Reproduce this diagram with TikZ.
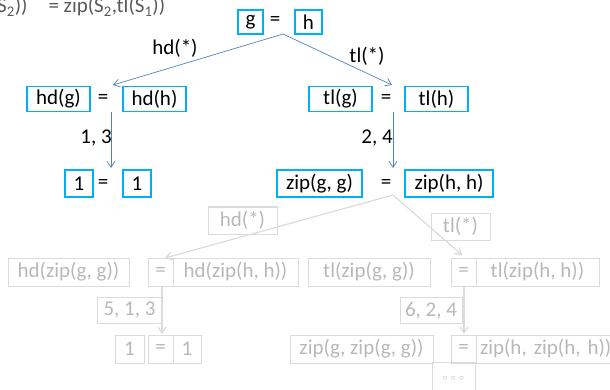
\documentclass[tikz,border=0pt]{standalone}
\usepackage{fontspec}
\setmainfont{Carlito}
\usetikzlibrary{arrows.meta}
\definecolor{boxc}{HTML}{00B0F0}
\definecolor{arrc}{HTML}{4F81BD}
\definecolor{fadeb}{gray}{0.86}
\definecolor{fadet}{gray}{0.72}
\definecolor{toptxt}{HTML}{595959}
\begin{document}
\begin{tikzpicture}[x=1pt,y=-1pt,
  every node/.style={font=\fontsize{21}{21}\selectfont, inner sep=0pt},
  bx/.style={draw=boxc, line width=1.5pt, minimum height=25pt, text=black},
  eqs/.style={text=black},
  arr/.style={draw=arrc, line width=0.7pt, -{Straight Barb[length=6pt,width=8pt]}},
  lab/.style={text=black},
  fbx/.style={draw=fadeb, line width=1pt, minimum height=27pt, text=fadet},
  farr/.style={draw=fadeb, line width=1.2pt, -{Straight Barb[length=6pt,width=8pt]}},
  fline/.style={draw=fadeb, line width=1.2pt}]
\useasboundingbox (0,0) rectangle (610,390);
\clip (0,0) rectangle (610,390);

% cut-off top text
\node[anchor=base west, text=toptxt] (toptext) at (-3,13) {S\textsubscript{2}))\quad = zip(S\textsubscript{2},tl(S\textsubscript{1}))};

% top row
\node[bx, minimum width=25pt, minimum height=24pt] (g) at (250.5,22) {g};
\node[eqs] (eq0) at (275,21) {=};
\node[bx, minimum width=27pt, minimum height=24pt] (h) at (308.5,22) {h};
\coordinate (split) at (283,34);

% second row
\node[bx, minimum width=63pt] (hdg) at (58.5,99) {hd(g)};
\node[eqs] (eq1) at (103,99) {=};
\node[bx, minimum width=63pt] (hdh) at (154.5,99) {hd(h)};
\node[bx, minimum width=63pt] (tlg) at (340.5,99) {tl(g)};
\node[eqs] (eq2) at (386,99) {=};
\node[bx, minimum width=63pt] (tlh) at (436.5,99) {tl(h)};

\coordinate (hdin) at (113,85);
\coordinate (tlin) at (392,85);
\draw[arr] (split) -- (hdin);
\draw[arr] (split) -- (tlin);
\node[lab] (lhd) at (175,48) {hd(*)};
\node[lab] (ltl) at (367,56) {tl(*)};

% third row
\node[bx, minimum width=28pt, minimum height=27pt] (one1) at (79,183.5) {1};
\node[eqs] (eq3) at (103,183.5) {=};
\node[bx, minimum width=28pt, minimum height=27pt] (one2) at (137,183.5) {1};
\node[bx, minimum width=85pt, minimum height=27pt] (zipg) at (319.5,183.5) {zip(g, g)};
\node[eqs] (eq4) at (386,183.5) {=};
\node[bx, minimum width=88pt, minimum height=27pt] (ziph) at (449,183.5) {zip(h, h)};

\coordinate (v1s) at (111,112);
\coordinate (v1e) at (111,168);
\coordinate (v2s) at (393,112);
\coordinate (v2e) at (393,168);
\draw[arr] (v1s) -- (v1e);
\draw[arr] (v2s) -- (v2e);
\node[lab] (l13) at (96,138) {1, 3};
\node[lab] (l24) at (377,138) {2, 4};

% faded part
\coordinate (fsplit) at (393,195);
\coordinate (fhdin) at (165,258);
\coordinate (ftlin) at (462,255);
\draw[farr] (fsplit) -- (fhdin);
\draw[farr] (fsplit) -- (ftlin);

\node[fbx, minimum width=69pt] (fhd) at (242.5,220.5) {hd(*)};
\node[fbx, minimum width=59pt] (ftl) at (460.5,226.5) {tl(*)};

\node[fbx, minimum width=121pt, minimum height=28pt] (hdzg) at (68.5,272) {hd(zip(g, g))};
\node[fbx, minimum width=25pt, minimum height=28pt] (feqA) at (160.5,272) {=};
\node[fbx, minimum width=125pt, minimum height=28pt] (hdzh) at (235.5,272) {hd(zip(h, h))};
\node[fbx, minimum width=122pt, minimum height=28pt] (tlzg) at (369,272) {tl(zip(g, g))};
\node[fbx, minimum width=25pt, minimum height=28pt] (feqB) at (463.5,272) {=};
\node[fbx, minimum width=123pt, minimum height=28pt] (tlzh) at (537.5,272) {tl(zip(h, h))};

\coordinate (fv1s) at (162,286);
\coordinate (fv1e) at (162,334);
\coordinate (fv2s) at (464,286);
\coordinate (fv2e) at (464,334);
\draw[farr] (fv1s) -- (fv1e);
\draw[farr] (fv2s) -- (fv2e);
\node[fbx, minimum width=65pt, minimum height=26pt] (f513) at (129.5,310) {5, 1, 3};
\node[fbx, minimum width=62pt, minimum height=26pt] (f624) at (431,310.5) {6, 2, 4};

\node[fbx, minimum width=29pt, minimum height=28pt] (oneA) at (129.5,349) {1};
\node[fbx, minimum width=25pt, minimum height=28pt] (feqC) at (160.5,349) {=};
\node[fbx, minimum width=28pt, minimum height=28pt] (oneB) at (187,349) {1};
\node[fbx, minimum width=143pt, minimum height=28pt] (zgzg) at (361.5,349) {zip(g, zip(g, g))};
\node[fbx, minimum width=25pt, minimum height=28pt] (feqD) at (463.5,349) {=};
\node[fbx, minimum width=144pt, minimum height=28pt, text width=140pt, align=left] (zhzh) at (548,349) {\hspace{2pt}zip(h, zip(h, h))};
\node[fbx, minimum width=43pt, minimum height=33pt, font=\fontsize{9}{9}\selectfont] (fdots) at (453.5,378.5) {$\circ\,\circ\,\circ$};
\end{tikzpicture}
\end{document}
